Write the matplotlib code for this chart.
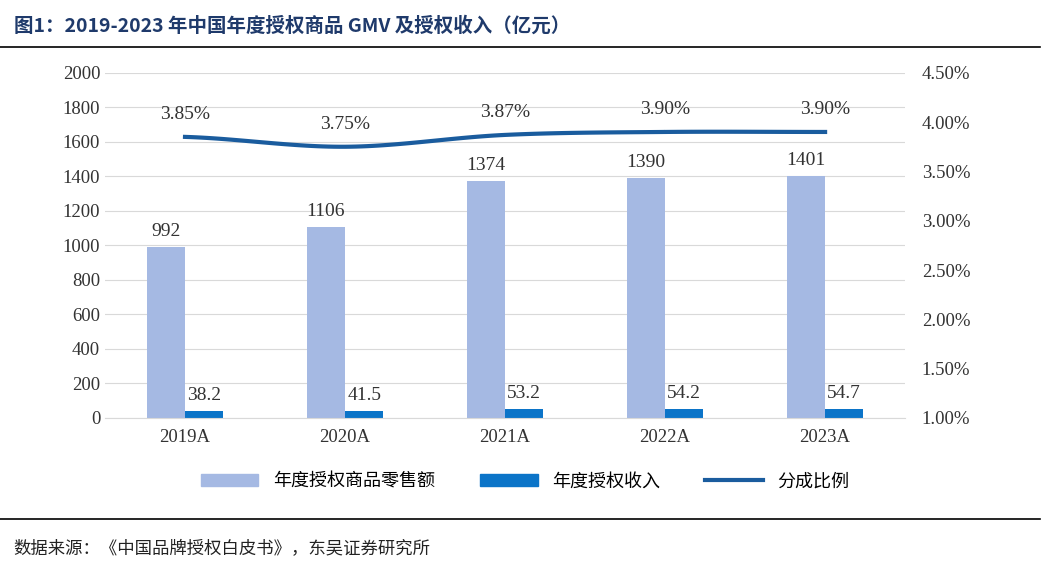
import numpy as np
import matplotlib
matplotlib.use("Agg")
import matplotlib.pyplot as plt
from matplotlib.lines import Line2D
from matplotlib.patches import Patch

plt.rcParams['font.family'] = ['Liberation Serif', 'Noto Sans CJK SC', 'DejaVu Sans']

years = ["2019A", "2020A", "2021A", "2022A", "2023A"]
gmv = [992, 1106, 1374, 1390, 1401]
income = [38.2, 41.5, 53.2, 54.2, 54.7]
ratio = [3.85, 3.75, 3.87, 3.90, 3.90]

light, dark, navy = "#A5B9E3", "#0B74C8", "#1A5C9E"

fig = plt.figure(figsize=(10.5, 5.87), dpi=100)
ax = fig.add_axes([0.1, 0.288, 0.762, 0.588])
ax2 = ax.twinx()

x = np.arange(len(years))
w = 0.24
ax.bar(x - w / 2, gmv, w, color=light, zorder=2)
ax.bar(x + w / 2, income, w, color=dark, zorder=2)
for xi, g, inc in zip(x, gmv, income):
    ax.text(xi - w / 2, g + 40, f"{g}", ha="center", va="bottom", fontsize=14, color="#333333")
    ax.text(xi + w / 2, inc + 40, f"{inc}", ha="center", va="bottom", fontsize=14, color="#333333")

ax.set_ylim(0, 2000)
ax.set_yticks(range(0, 2001, 200))
ax.set_xlim(-0.5, len(years) - 0.5)
ax.set_xticks(x)
ax.set_xticklabels(years)
ax.grid(axis="y", color="#D9D9D9", lw=0.8, zorder=0)
ax.tick_params(length=0, labelsize=13.5, colors="#333333")
ax.tick_params(axis="x", pad=8)
for s in ["top", "left", "right"]:
    ax.spines[s].set_visible(False)
ax.spines["bottom"].set_color("#D9D9D9")

# smooth line through the ratio points (Catmull-Rom)
px = np.array(x, float); py = np.array(ratio, float)
ext_x = np.r_[px[0] - 1, px, px[-1] + 1]
ext_y = np.r_[py[0], py, py[-1]]
sx, sy = [], []
for i in range(1, len(ext_x) - 2):
    t = np.linspace(0, 1, 30)
    p0, p1, p2, p3 = [np.array([ext_x[j], ext_y[j]]) for j in range(i - 1, i + 3)]
    pts = 0.5 * ((2 * p1)[:, None] + (-p0 + p2)[:, None] * t
                 + (2 * p0 - 5 * p1 + 4 * p2 - p3)[:, None] * t ** 2
                 + (-p0 + 3 * p1 - 3 * p2 + p3)[:, None] * t ** 3)
    sx.extend(pts[0]); sy.extend(pts[1])
ax2.plot(sx, sy, color=navy, lw=3, zorder=3)
for xi, r in zip(x, ratio):
    ax2.text(xi, r + 0.14, f"{r:.2f}%", ha="center", va="bottom", fontsize=14, color="#333333")
ax2.set_ylim(1.0, 4.5)
ax2.set_yticks(np.arange(1.0, 4.51, 0.5))
ax2.set_yticklabels([f"{v:.2f}%" for v in np.arange(1.0, 4.51, 0.5)])
ax2.tick_params(length=0, labelsize=13.5, colors="#333333", pad=12)
for s in ax2.spines.values():
    s.set_visible(False)

handles = [Patch(color=light), Patch(color=dark), Line2D([], [], color=navy, lw=3)]
fig.legend(handles, ["年度授权商品零售额", "年度授权收入", "分成比例"], loc="center",
           bbox_to_anchor=(0.5, 0.18), ncol=3, frameon=False, fontsize=13,
           handlelength=3.2, columnspacing=2.5, prop={'family': ['Noto Sans CJK SC'], 'size': 13})

fig.text(0.013, 0.955, "图1：2019-2023 年中国年度授权商品 GMV 及授权收入（亿元）", fontsize=14,
         fontweight="bold", color="#1F3A6B", va="center",
         family=['Noto Sans CJK SC'])
fig.add_artist(Line2D([0.0, 0.99], [0.92, 0.92], color="black", lw=1.2))
fig.add_artist(Line2D([0.0, 0.99], [0.115, 0.115], color="black", lw=1.2))
fig.text(0.013, 0.066, "数据来源：《中国品牌授权白皮书》，东吴证券研究所", fontsize=12.5,
         color="#222222", va="center", family=['Noto Sans CJK SC'])

fig.savefig("out.png", dpi=100)
